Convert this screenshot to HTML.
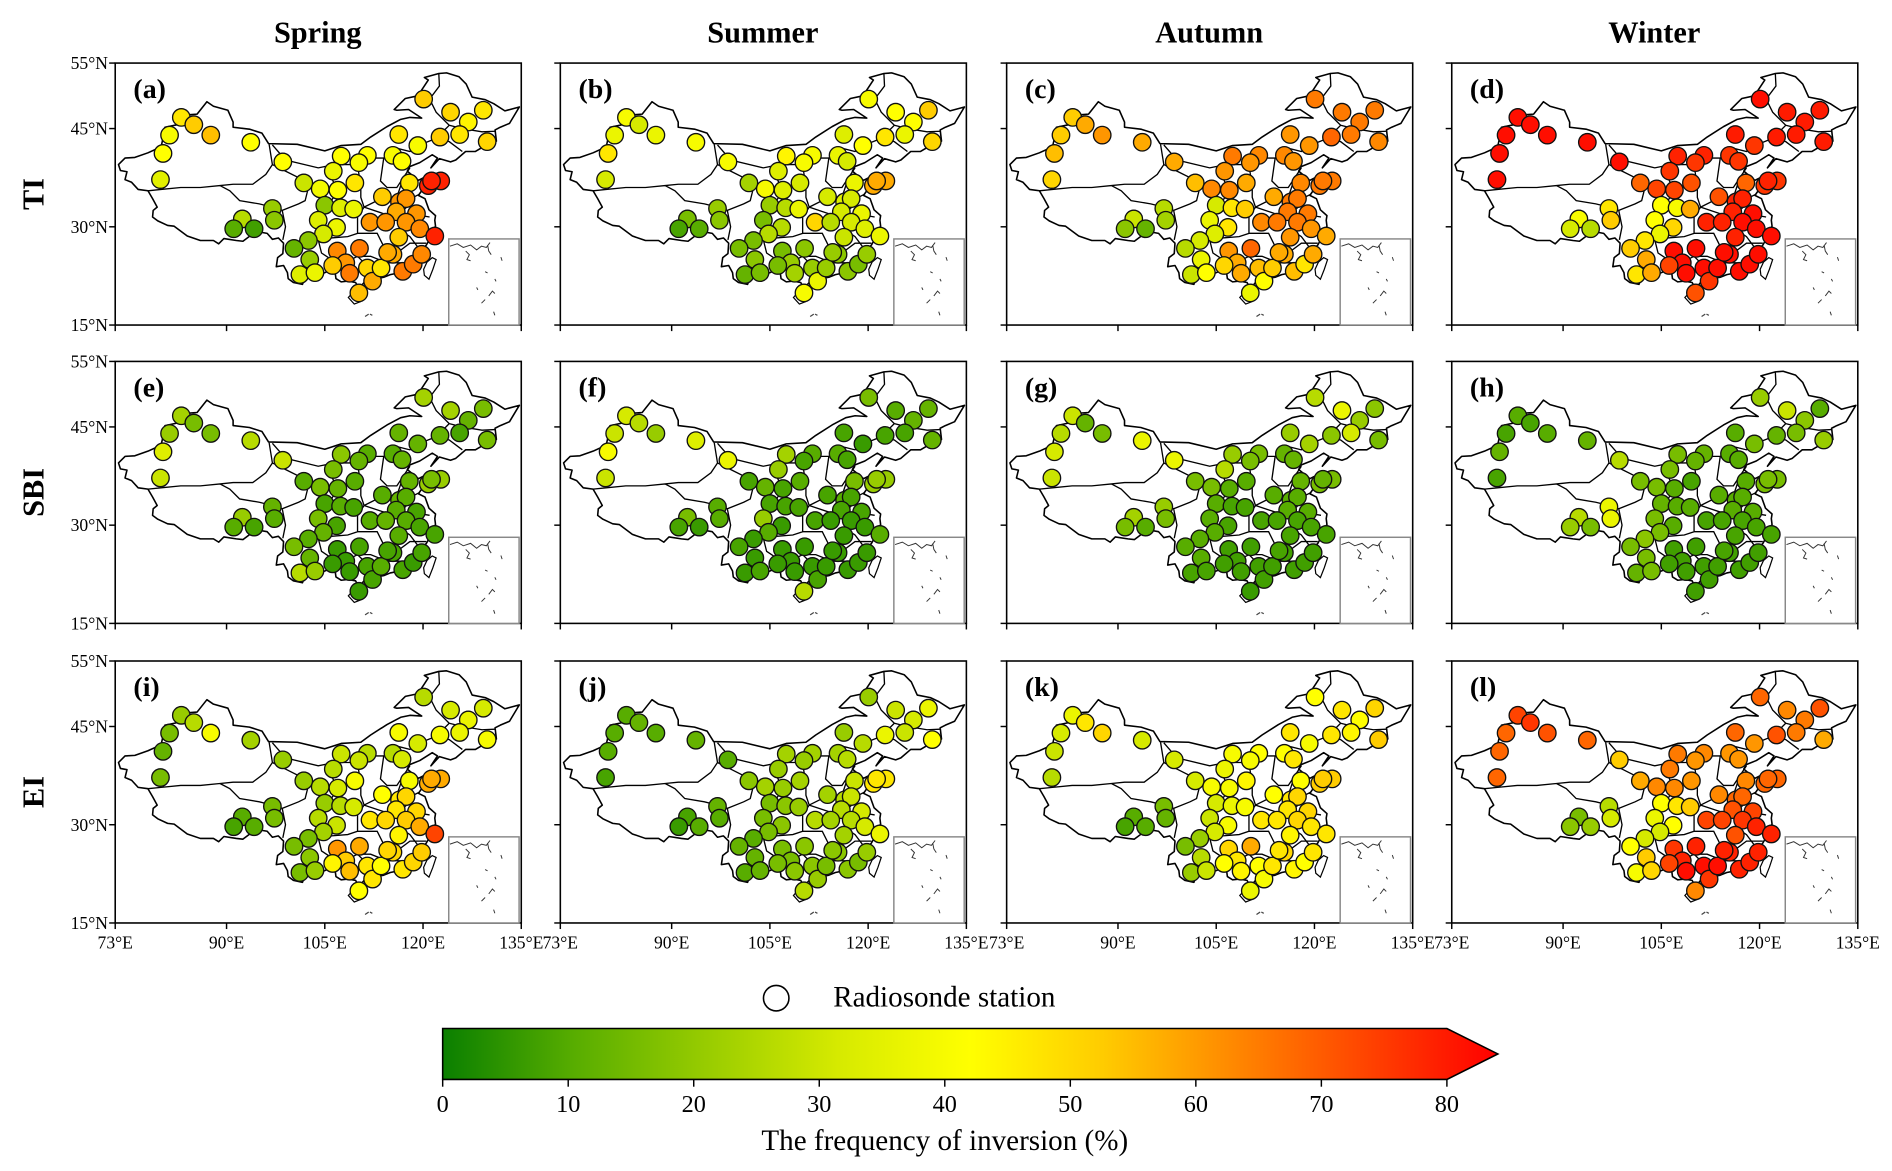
<!DOCTYPE html>
<html><head><meta charset="utf-8"><style>
html,body{margin:0;padding:0;background:#fff;}
svg{display:block;font-family:"Liberation Serif",serif;}
</style></head><body>
<svg id="fig" width="1892" height="1171" viewBox="0 0 1560 965.5" preserveAspectRatio="none" xmlns="http://www.w3.org/2000/svg">
<defs>
<linearGradient id="cbgrad" x1="0" x2="1" y1="0" y2="0">
<stop offset="0" stop-color="#0a7f00"/><stop offset="0.125" stop-color="#58ad00"/><stop offset="0.25" stop-color="#98cc00"/><stop offset="0.375" stop-color="#d6ea00"/><stop offset="0.5" stop-color="#ffff00"/><stop offset="0.625" stop-color="#ffcc00"/><stop offset="0.75" stop-color="#ff8800"/><stop offset="0.875" stop-color="#ff4400"/><stop offset="1" stop-color="#ff0000"/>
</linearGradient>
</defs>
<g id="panels"></g>
<g id="legend">
<circle cx="640" cy="823" r="10.5" fill="#fff" stroke="#000" stroke-width="1.3"/>
<text x="687" y="830" font-size="24">Radiosonde station</text>
</g>
<g id="colorbar">
<path d="M365,848 L1193,848 L1235,869 L1193,890 L365,890 Z" fill="url(#cbgrad)" stroke="#000" stroke-width="1.3"/>
<g id="cbticks"></g>
<text x="779" y="948" font-size="24" text-anchor="middle">The frequency of inversion (%)</text>
</g>
</svg>
<script>
// ---- data ----
const seasons = ["Spring","Summer","Autumn","Winter"];
const indices = ["TI","SBI","EI"];
const panelLetters = ["a","b","c","d","e","f","g","h","i","j","k","l"];
const latTicks = [55,45,30,15];
const lonTicks = [73,90,105,120,135];
const cbTicks = [0,10,20,30,40,50,60,70,80];
const stationLon = [83.1,85.0,87.6,81.3,80.3,79.9,93.7,98.6,120.1,124.2,129.2,126.9,122.6,125.6,129.8,116.3,119.2,107.5,111.5,110.2,115.4,116.8,106.3,101.8,104.3,107.0,109.6,117.9,120.8,122.7,113.8,105.0,107.4,109.4,116.4,117.4,115.9,119.0,97.0,97.3,92.4,91.1,94.2,104.0,106.8,104.8,111.9,114.3,117.4,119.5,121.8,116.3,102.5,100.3,102.7,101.2,103.5,106.9,110.3,108.2,108.8,111.5,112.3,113.6,115.4,116.9,118.5,119.8,110.2,106.2,121.3,114.6];
const stationLat = [46.7,45.6,44.0,44.0,41.2,37.2,42.9,39.9,49.5,47.5,47.8,46.0,43.7,44.1,43.0,44.1,42.4,40.8,40.9,39.8,40.9,40.0,38.5,36.7,35.8,35.6,36.7,36.7,36.3,37.0,34.6,33.3,32.9,32.7,33.8,34.3,32.3,32.0,32.8,31.0,31.2,29.7,29.7,31.0,29.9,28.9,30.7,30.7,30.7,29.7,28.6,28.4,27.9,26.7,25.0,22.7,23.0,26.3,26.7,24.5,22.9,23.7,21.7,23.7,25.8,23.2,24.3,25.8,19.9,24.1,37.0,26.1];
const valA = [45,50,52,38,40,33,40,40,50,48,45,42,50,45,48,45,38,40,40,38,38,40,35,28,37,40,45,45,75,75,50,18,32,35,58,58,55,58,20,18,25,10,7,32,35,30,58,58,58,60,75,50,18,12,20,32,35,60,62,58,62,48,55,45,55,62,62,60,52,50,75,55];
const valB = [38,30,35,35,45,30,38,38,38,40,50,40,45,35,48,32,40,42,38,38,35,30,32,22,38,32,30,35,55,55,30,20,25,35,32,30,30,35,20,18,15,8,10,15,25,25,48,25,30,32,35,28,15,15,18,12,15,15,18,20,22,20,35,20,18,18,15,20,38,15,55,20];
const valC = [50,55,58,50,52,48,55,55,62,62,62,62,65,62,60,58,58,62,60,58,60,58,58,52,60,60,55,60,62,62,55,30,45,50,62,62,62,62,25,22,28,18,12,35,45,32,60,62,62,58,55,58,30,25,35,28,40,58,65,55,55,52,40,50,55,52,45,55,35,48,62,55];
const valD = [78,78,78,78,78,78,78,78,78,76,76,76,76,76,76,76,72,75,75,72,72,72,72,65,70,70,68,65,72,72,68,40,38,55,75,75,75,78,45,50,38,30,25,40,48,35,75,75,78,78,78,75,45,50,55,45,55,78,78,78,78,78,72,78,78,78,78,78,68,70,75,78];
const valE = [22,15,15,20,32,28,25,28,22,22,15,12,12,8,15,12,12,18,10,12,10,12,15,10,15,12,10,12,20,20,10,8,10,8,12,10,10,8,12,10,20,10,8,15,8,12,10,12,10,8,8,10,10,15,12,25,20,6,8,6,6,8,8,10,8,8,6,8,6,6,15,8];
const valF = [30,25,20,28,38,28,32,35,15,10,12,12,8,8,12,8,6,22,10,8,10,8,20,8,12,8,10,15,20,20,8,8,8,8,10,8,8,8,10,10,15,8,6,20,6,10,8,6,6,6,10,6,6,8,6,6,8,6,6,6,6,6,8,6,6,6,6,6,25,6,20,6];
const valG = [28,12,15,25,30,28,35,35,25,35,18,20,18,30,15,20,22,20,15,15,12,12,25,15,15,10,10,12,15,15,10,10,8,8,10,10,10,10,20,15,22,15,10,10,8,10,8,8,8,8,8,8,10,10,10,8,8,7,7,7,7,7,7,7,7,7,7,7,6,7,12,8];
const valH = [10,8,10,8,12,8,12,25,20,28,10,18,12,15,20,10,15,15,12,12,10,10,15,15,15,10,8,10,15,15,10,12,10,10,10,10,10,10,35,35,25,20,15,15,10,15,8,8,8,8,8,8,18,15,15,12,15,7,7,7,7,7,7,7,7,7,7,7,7,7,15,8];
const valI = [20,25,38,15,12,15,22,20,25,30,30,35,38,35,38,38,30,28,25,28,25,30,25,20,25,30,38,38,55,55,40,20,25,30,45,48,45,48,15,15,10,8,10,25,28,22,45,48,50,55,70,42,15,15,18,15,20,58,55,50,52,45,45,40,48,45,48,50,40,42,55,48];
const valJ = [10,12,10,10,10,8,12,10,20,28,35,30,35,28,40,20,25,22,22,20,22,25,20,18,22,20,22,28,45,45,22,15,18,20,25,28,25,30,12,10,8,6,10,15,18,15,25,22,25,30,35,22,10,12,12,10,12,15,18,15,18,18,20,15,18,18,15,20,25,15,45,18];
const valK = [35,45,48,30,28,25,30,30,40,45,48,40,45,42,50,45,38,38,40,38,40,45,35,30,38,38,42,40,50,50,40,30,35,38,45,48,45,48,15,12,10,8,10,28,38,30,45,45,48,45,45,42,20,15,25,20,28,48,55,45,42,40,38,45,48,42,40,45,35,40,50,45];
const valL = [70,72,68,65,65,65,65,50,65,60,68,62,68,62,55,65,58,62,60,58,58,58,62,55,60,60,58,60,65,65,60,40,45,50,65,65,68,70,25,30,15,18,20,35,40,30,70,70,72,75,75,68,30,40,50,38,48,72,75,75,78,78,72,78,75,75,75,75,60,70,65,75];
const panelValues = [valA,valB,valC,valD,valE,valF,valG,valH,valI,valJ,valK,valL];

// ---- geometry ----
const colLeft = [95,462,830,1197];
const rowTop = [52,298,545];
const K = 5.4;
function px(lon, left){ return left + (lon-73)*K; }
function py(lat, top){ return top + (55-lat)*K; }
const outline = [[73.5,39.5],[74.5,40.5],[76,40.6],[78,41.3],[80,42.2],[80.4,44],[80.6,45.2],[82.5,45.6],[82.8,47],[85.5,47.2],[87,49.1],[88,48.4],[90.2,47.8],[91,46],[91,45.2],[93.5,44.9],[95.4,44.3],[96.4,42.7],[100.8,42.6],[105,41.6],[107.5,42.4],[110.5,42.6],[112,43.7],[114.5,45.3],[116.6,46.4],[118,46.7],[119.8,46.6],[117.8,47.9],[116,47.8],[115.6,47.9],[117.3,49.6],[119.2,50],[120.2,51.5],[120.8,52.4],[120.2,52.8],[122.4,53.4],[123.6,53.5],[125.5,52.9],[126.6,51.8],[127.5,49.8],[129.5,49.4],[130.8,48.8],[132.5,47.7],[134.7,48.3],[133.2,45.8],[131.8,45.2],[131,44.8],[131.2,43.1],[130.3,42.5],[129,42.1],[128,41.5],[126.5,41.5],[125,40.2],[124.2,39.9],[122.5,40.4],[121.2,39],[122.2,40.5],[121.4,41],[119.5,39.8],[118,39.2],[117.6,38.5],[118.8,37.5],[119.3,37.1],[120.7,37.8],[122.5,37.4],[121,36.6],[120,35.8],[119.3,34.8],[120.3,34.3],[120.9,32.6],[121.9,31.7],[121.8,31],[121.9,30.1],[121.5,29.5],[121.8,28.8],[121,28.1],[120.5,27.2],[119.7,26.4],[119.5,25.4],[118.7,24.6],[117.8,24],[116.5,23],[115,22.7],[114,22.3],[113.5,22.2],[112.5,21.8],[111,21.5],[110.2,20.6],[109.7,21.5],[108.5,21.7],[107.5,21.6],[106.7,22.1],[106.6,22.9],[105.5,23.2],[104.5,22.8],[103.3,22.8],[102,22.4],[101.6,21.2],[100.2,21.5],[99.4,22.1],[99.3,23],[98.7,24.1],[97.6,23.9],[97.8,25.3],[98.6,25.9],[98.7,27.5],[97.9,28.3],[97,28.1],[96.2,29],[94.5,29.3],[92.5,27.8],[91.5,27.9],[89.6,28.2],[88.8,27.4],[88,27.9],[86,27.9],[84,28.6],[82,30.1],[81,30.2],[79.5,30.9],[78.7,31.5],[78.8,32.5],[79.4,33],[78.7,34.3],[78,35.5],[76.5,35.7],[75.5,36.8],[74.5,37.2],[74.8,38.4],[73.8,38.6],[73.5,39.5]];
const hainan = [[108.6,19.2],[109.5,18.2],[110.5,18.6],[111,19.7],[110.5,20.1],[109.5,20.2]];
const taiwan = [[120.2,22.6],[120.9,22],[121.5,23.5],[122,25],[121.4,25.3],[120.6,24.6],[120.1,23.5]];
const provinceLines = [
 [[78,35.5],[80,35.7],[83,36],[86,36],[89,36.3],[91,36.5],[94,36.5],[96,38],[97,39.5],[96.5,42.6]],
 [[89,36.3],[90.5,35.5],[92,34],[95,33.5],[97,33],[98.5,32.5],[99,30],[98.6,28]],
 [[97,39.5],[99,38.5],[101,37.5],[102.5,36],[102,34],[101,33.5],[98.5,32.5]],
 [[97,42.5],[99,40.2],[104,39],[106.5,39.5],[110,39.5],[111,40.5],[114,40.5],[116,42],[118,41.5],[119.5,42.5],[122,43.5],[124,45.5],[122,47.5],[121,49.5],[122.5,51.5],[122.4,53.4]],
 [[124,45.5],[126,45],[129,44.5],[131,44.6]],
 [[122,43.5],[124,43],[126,41.5]],
 [[106.5,39.5],[106,37.5],[107,35.5],[106,34],[104.5,33],[106,32.5],[108,32],[110,31.5],[110,29],[108.5,28.5],[106,28.3],[104,28]],
 [[110,39.5],[110.5,36],[110.5,34.5],[111,33],[110,31.5]],
 [[104,28],[104.5,26],[106,25],[108,24.5],[110,25.5],[111,24.5],[112,22.2]],
 [[111,33],[114,32],[116,31.5],[118,32],[121,31.5]],
 [[111,33],[114,34.5],[116,34.5],[118.5,34.5],[119.5,35]],
 [[110,29],[113,29],[114,27],[116,26],[118,27.5],[120.5,27.5]],
 [[110,25.5],[112,25.5],[114.5,24.5],[116.5,24.5],[117.2,23.5]],
 [[114,40.5],[113.5,37],[114.5,36],[116,36],[117,37.5],[118,39]],
 [[116,34.5],[116.5,36],[117,37.5]],
 [[117,31.5],[116.5,29.5],[118,28.5],[119.5,26.5]]
];
const cstops = [[0,[10,127,0]],[10,[88,173,0]],[20,[152,204,0]],[30,[214,234,0]],[40,[255,255,0]],[50,[255,204,0]],[60,[255,136,0]],[70,[255,68,0]],[80,[255,0,0]]];
function colorFor(v){
  v = Math.max(0, Math.min(80, v));
  for (let i=0;i<cstops.length-1;i++){
    const a=cstops[i], b=cstops[i+1];
    if (v<=b[0]){ const t=(v-a[0])/(b[0]-a[0]);
      const c=a[1].map((x,j)=>Math.round(x+(b[1][j]-x)*t));
      return 'rgb('+c.join(',')+')'; }
  }
  return 'rgb(255,0,0)';
}
const NS='http://www.w3.org/2000/svg';
function mk(tag, attrs, parent){ const e=document.createElementNS(NS,tag); for(const k in attrs) e.setAttribute(k,attrs[k]); if(parent) parent.appendChild(e); return e; }
function pathOf(pts,left,top,close){ return pts.map((p,i)=>(i?'L':'M')+px(p[0],left).toFixed(1)+','+py(p[1],top).toFixed(1)).join(' ')+(close?' Z':''); }

const root = document.getElementById('panels');
seasons.forEach((s,c)=>{
  const t = mk('text',{x:colLeft[c]+167,y:35,'font-size':25,'font-weight':'bold','text-anchor':'middle'},root);
  
  
  t.textContent = s;
});
indices.forEach((s,r)=>{
  const cy = rowTop[r]+108;
  const t = mk('text',{x:0,y:0,'font-size':25,'font-weight':'bold','text-anchor':'middle',transform:'translate(36,'+cy+') rotate(-90)'},root);
  
  
  t.textContent = s;
});

for (let r=0;r<3;r++){
  for (let c=0;c<4;c++){
    const idx = r*4+c, left=colLeft[c], top=rowTop[r];
    const g = mk('g',{},root);
    
    
    const frame = mk('rect',{x:left,y:top,width:334.8,height:216,fill:'#fff',stroke:'#000','stroke-width':1.3},g);
    
    
    const china = mk('path',{d:pathOf(outline,left,top,true),fill:'#fff',stroke:'#000','stroke-width':1.3,'stroke-linejoin':'round'},g);
    
    
    const prov = mk('path',{d:provinceLines.map(l=>pathOf(l,left,top,false)).join(' '),fill:'none',stroke:'#000','stroke-width':1.1},g);
    
    
    [hainan,taiwan].forEach((isl,k)=>{
      const e = mk('path',{d:pathOf(isl,left,top,true),fill:'#fff',stroke:'#000','stroke-width':1},g);
      
      
    });
    const vals = panelValues[idx];
    for (let i=0;i<stationLon.length;i++){
      const ci = mk('circle',{cx:px(stationLon[i],left).toFixed(1),cy:py(stationLat[i],top).toFixed(1),r:7.2,fill:colorFor(vals[i]),stroke:'#111','stroke-width':1.1},g);
      
      
    }
    const dots = mk('path',{d:'M'+(left+206)+','+(top+209)+' l3,-2 M'+(left+210)+','+(top+207)+' l2,1',stroke:'#444','stroke-width':1,fill:'none'},g);
    
    
    const inset = mk('g',{},g);
    
    
    mk('rect',{x:left+275,y:top+145,width:58,height:71,fill:'#fff',stroke:'#888','stroke-width':1.2},inset);
    mk('path',{d:'M'+(left+276)+','+(top+151)+' l6,-2 l5,3 l6,-2 l5,4 l4,-3 l4,1 l3,-4 M'+(left+289)+','+(top+155)+' l3,3 l-2,4 l3,1 M'+(left+307)+','+(top+150)+' l1,5 l2,3 M'+(left+305)+','+(top+172)+' l2,1 M'+(left+313)+','+(top+178)+' l1,2 M'+(left+298)+','+(top+185)+' l1,2 M'+(left+308)+','+(top+192)+' l3,-4 l2,2 M'+(left+302)+','+(top+198)+' l3,-3 M'+(left+312)+','+(top+205)+' l1,3 M'+(left+318)+','+(top+160)+' l1,3',stroke:'#333','stroke-width':0.8,fill:'none'},inset);
    const lab = mk('text',{x:left+15,y:top+29,'font-size':23,'font-weight':'bold'},g);
    
    
    lab.textContent = '('+panelLetters[idx]+')';
    latTicks.forEach(lat=>{
      const y = py(lat,top);
      const tk = mk('line',{x1:left-5,x2:left,y1:y,y2:y,stroke:'#000','stroke-width':1.2},g);
      
      
      if (c===0){
        const tl = mk('text',{x:left-6,y:y+5,'font-size':14.5,'text-anchor':'end'},g);
        
        
        tl.textContent = lat+'°N';
      }
    });
    lonTicks.forEach(lon=>{
      const x = px(lon,left);
      const tk = mk('line',{x1:x,x2:x,y1:top+216,y2:top+221,stroke:'#000','stroke-width':1.2},g);
      
      
      if (r===2){
        const tl = mk('text',{x:x,y:top+237,'font-size':14.5,'text-anchor':'middle'},g);
        
        
        tl.textContent = lon+'°E';
      }
    });
  }
}
const cbg = document.getElementById('cbticks');
cbTicks.forEach(v=>{
  const x = 365 + (v/80)*828;
  const tk = mk('line',{x1:x,x2:x,y1:890,y2:896,stroke:'#000','stroke-width':1.2},cbg);
  
  
  const tl = mk('text',{x:x,y:917,'font-size':20,'text-anchor':'middle'},cbg);
  
  
  tl.textContent = v;
});
</script>
</body></html>
